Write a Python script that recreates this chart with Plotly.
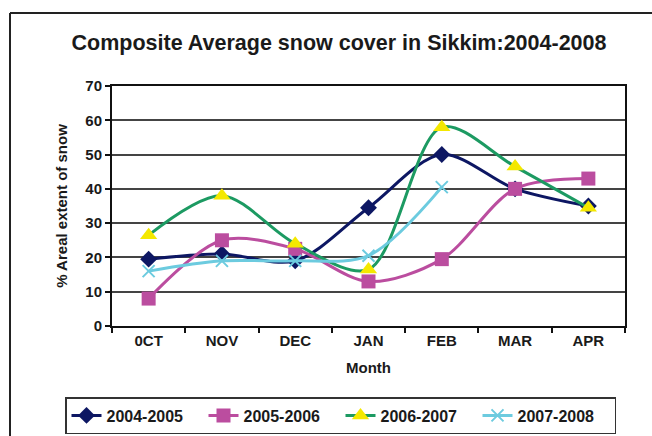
import plotly.graph_objects as go

# Monthly composite snow cover (% areal extent) for Sikkim
months = ["0CT", "NOV", "DEC", "JAN", "FEB", "MAR", "APR"]
s_2004_2005 = [19.5, 21, 19, 34.5, 50, 40, 35]
s_2005_2006 = [8, 25, 22.5, 13, 19.5, 40, 43]
s_2006_2007 = [26.5, 38, 24, 16.5, 58, 46.5, 34.5]
s_2007_2008 = [16, 19, 19, 20.5, 40.5]
y_ticks = [0, 10, 20, 30, 40, 50, 60, 70]

W, H = 652, 436
L, R, T, B = 112, 27, 86, 110
pw, ph = W - L - R, H - T - B


def px_x(x):
    return (x - L) / pw


def px_y(y):
    return (H - B - y) / ph


font = "Liberation Sans, Arial, sans-serif"

fig = go.Figure()

series = [
    ("2004-2005", months, s_2004_2005, "#0d1763", "diamond", 13, "#0d1763", None),
    ("2005-2006", months, s_2005_2006, "#bb4d9f", "square", 14, "#bb4d9f", None),
    ("2006-2007", months, s_2006_2007, "#1c9a62", "triangle-up", 15, "#f4e800", None),
    ("2007-2008", months[:len(s_2007_2008)], s_2007_2008, "#6ccbdf", "x-thin-open", 12, "#6ccbdf", 2),
]
for name, xs, ys, lc, sym, size, mc, mlw in series:
    marker = dict(symbol=sym, size=size, color=mc, line=dict(width=0))
    if mlw:
        marker["line"] = dict(width=mlw, color=mc)
    fig.add_trace(go.Scatter(
        x=xs, y=ys, name=name, mode="lines+markers",
        line=dict(color=lc, width=3, shape="spline", smoothing=0.9),
        marker=marker,
    ))

# Outer chart frame (left and top edges)
frame = dict(type="line", xref="paper", yref="paper",
             line=dict(color="#222", width=2), layer="above")
fig.add_shape(**frame, x0=px_x(10), x1=px_x(10), y0=px_y(13), y1=px_y(440))
fig.add_shape(**frame, x0=px_x(10), x1=px_x(660), y0=px_y(13), y1=px_y(13))

bold15 = dict(size=15, family=font, color="#1a1a1a", weight="bold")

fig.update_layout(
    width=W, height=H,
    margin=dict(l=L, r=R, t=T, b=B, autoexpand=False),
    paper_bgcolor="white", plot_bgcolor="white",
    font=dict(family=font, color="#1a1a1a"),
    title=dict(
        text="Composite Average snow cover in Sikkim:2004-2008",
        font=dict(size=21.5, family=font, color="#1a1a1a", weight="bold"),
        x=339 / W, xanchor="center", xref="container",
        y=1 - 42 / H, yanchor="middle", yref="container",
    ),
    xaxis=dict(
        type="category", categoryorder="array", categoryarray=months,
        range=[-0.5, 6.5],
        showline=True, linecolor="#111", linewidth=2, mirror=True,
        ticks="outside", tickson="boundaries", ticklen=5, tickwidth=1.5, tickcolor="#111",
        showgrid=False,
        tickfont=bold15,
        title=dict(text="Month", font=bold15, standoff=14),
    ),
    yaxis=dict(
        range=[0, 70], tickvals=y_ticks,
        showline=True, linecolor="#111", linewidth=2, mirror=True,
        ticks="outside", ticklen=5, tickwidth=1.5, tickcolor="#111",
        showgrid=True, gridcolor="#444", gridwidth=1.5,
        zeroline=False,
        tickfont=bold15,
        title=dict(text="% Areal extent of snow", font=bold15, standoff=14),
    ),
    legend=dict(
        orientation="h",
        x=px_x(65), xanchor="left", y=px_y(434), yanchor="bottom",
        bordercolor="#333", borderwidth=1.5, bgcolor="white",
        font=dict(size=16, family=font, color="#1a1a1a", weight="bold"),
        itemwidth=30, entrywidth=92, entrywidthmode="pixels",
        tracegroupgap=0,
    ),
    showlegend=True,
)

fig.write_html("out.html")
